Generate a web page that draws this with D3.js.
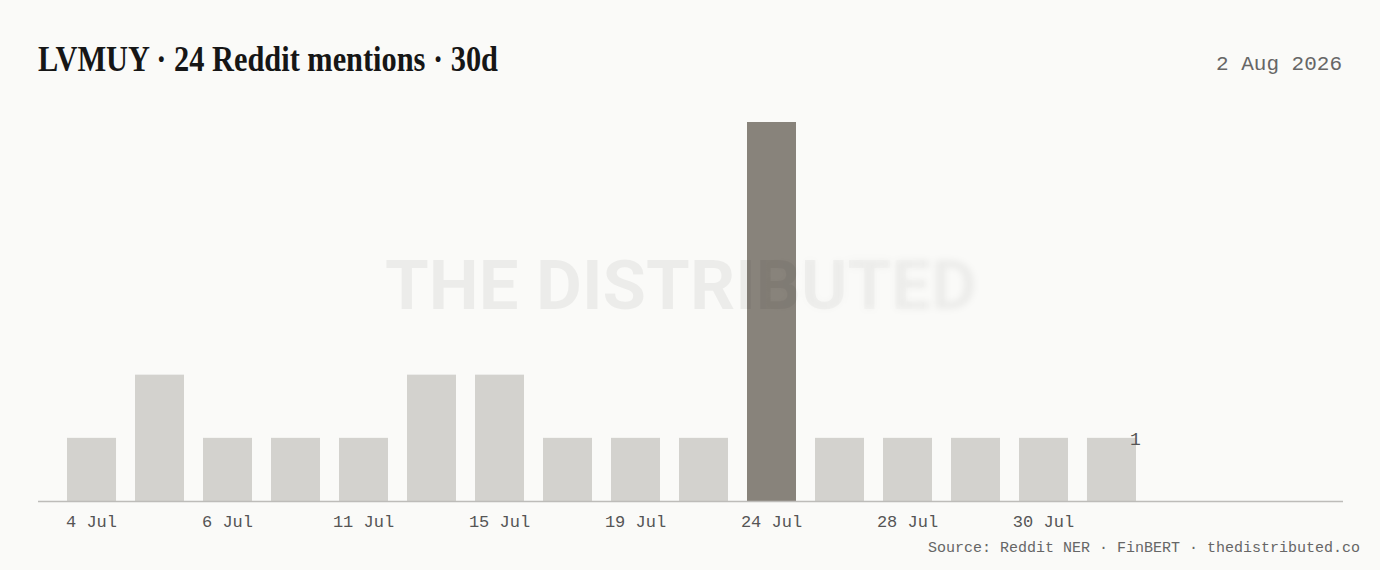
<!DOCTYPE html>
<html><head><meta charset="utf-8">
<script src="https://cdn.jsdelivr.net/npm/d3@7"></script>
<style>
html,body{margin:0;padding:0;background:#fafaf8;}
svg{display:block;}
</style></head>
<body>
<svg id="chart" width="1380" height="570"></svg>
<script>
const dates = ["4 Jul","5 Jul","6 Jul","8 Jul","11 Jul","13 Jul","15 Jul","17 Jul","19 Jul","22 Jul","24 Jul","26 Jul","28 Jul","29 Jul","30 Jul","31 Jul"];
const mentions = [1,2,1,1,1,2,2,1,1,1,6,1,1,1,1,1];
const tickLabels = ["4 Jul","6 Jul","11 Jul","15 Jul","19 Jul","24 Jul","28 Jul","30 Jul"];
const title = "LVMUY · 24 Reddit mentions · 30d";
const dateLabel = "2 Aug 2026";
const sourceLabel = "Source: Reddit NER · FinBERT · thedistributed.co";
const watermark = "THE DISTRIBUTED";

const svg = d3.select("#chart");
const W = 1380, H = 570;
svg.append("rect").attr("width",W).attr("height",H).attr("fill","#fafaf8");

const left = 38, right = 1343, base = 501;
const step = 68;
const x = d3.scaleBand().domain(dates)
  .range([57.5, 57.5 + step*dates.length])
  .paddingInner(19/68).paddingOuter(0.14);
const y = d3.scaleLinear().domain([0,6]).range([base,122]);

// title
svg.append("text").attr("x",38).attr("y",71)
  .attr("font-family","'Liberation Serif','DejaVu Serif',serif")
  .attr("font-weight","bold").attr("font-size",36)
  .attr("fill","#161616")
  .attr("textLength",460).attr("lengthAdjust","spacingAndGlyphs")
  .text(title);
svg.append("text").attr("x",1342).attr("y",70).attr("text-anchor","end")
  .attr("font-family","'Liberation Mono','DejaVu Sans Mono',monospace")
  .attr("font-size",21).attr("fill","#666")
  .text(dateLabel);

// bars
const maxV = d3.max(mentions);
svg.append("g").selectAll("rect").data(dates).join("rect")
  .attr("x",d=>x(d)).attr("width",x.bandwidth())
  .attr("y",(d,i)=>y(mentions[i])).attr("height",(d,i)=>base-y(mentions[i]))
  .attr("fill",(d,i)=>mentions[i]===maxV?"#88837b":"#d3d2ce");

// watermark
const defs = svg.append("defs");
defs.append("filter").attr("id","blur").attr("x","-10%").attr("y","-30%").attr("width","120%").attr("height","160%")
  .append("feGaussianBlur").attr("stdDeviation",3);
const g1 = defs.append("linearGradient").attr("id","fadeA").attr("gradientUnits","userSpaceOnUse")
  .attr("x1",760).attr("x2",930).attr("y1",0).attr("y2",0);
g1.append("stop").attr("offset",0).attr("stop-color","#fff").attr("stop-opacity",1);
g1.append("stop").attr("offset",1).attr("stop-color","#fff").attr("stop-opacity",0);
const g2 = defs.append("linearGradient").attr("id","fadeB").attr("gradientUnits","userSpaceOnUse")
  .attr("x1",760).attr("x2",930).attr("y1",0).attr("y2",0);
g2.append("stop").attr("offset",0).attr("stop-color","#fff").attr("stop-opacity",0);
g2.append("stop").attr("offset",1).attr("stop-color","#fff").attr("stop-opacity",1);
defs.append("mask").attr("id","mA").attr("maskUnits","userSpaceOnUse").attr("x",0).attr("y",0).attr("width",W).attr("height",H)
  .append("rect").attr("width",W).attr("height",H).attr("fill","url(#fadeA)");
defs.append("mask").attr("id","mB").attr("maskUnits","userSpaceOnUse").attr("x",0).attr("y",0).attr("width",W).attr("height",H)
  .append("rect").attr("width",W).attr("height",H).attr("fill","url(#fadeB)");
function wm(sel){
  return sel.attr("x",385).attr("y",309)
   .attr("font-family","Roboto,'Liberation Sans',sans-serif").attr("font-weight","bold")
   .attr("font-size",68).attr("fill","#000").attr("fill-opacity",0.055)
   .attr("textLength",592).attr("lengthAdjust","spacingAndGlyphs")
   .text(watermark);
}
wm(svg.append("g").attr("mask","url(#mA)").append("text"));
wm(svg.append("g").attr("mask","url(#mB)").append("g").attr("filter","url(#blur)").append("text"));

// axis line
svg.append("line").attr("x1",left).attr("x2",right).attr("y1",base+0.5).attr("y2",base+0.5)
  .attr("stroke","#bdbcb9").attr("stroke-width",1.6);

// x labels
const axis = d3.axisBottom(x).tickValues(tickLabels).tickSize(0).tickPadding(0);
const ax = svg.append("g").attr("transform",`translate(0,${base})`).call(axis);
ax.select(".domain").remove();
ax.selectAll("text").attr("y",26).attr("dy",null)
  .attr("font-family","'Liberation Mono','DejaVu Sans Mono',monospace")
  .attr("font-size",17).attr("fill","#555");

// value label on last bar
const last = dates[dates.length-1];
svg.append("text").attr("x",x(last)+x.bandwidth()-6).attr("y",y(mentions[mentions.length-1])+7)
  .attr("font-family","'Liberation Mono','DejaVu Sans Mono',monospace")
  .attr("font-size",18).attr("fill","#555").text(mentions[mentions.length-1]);

// source
svg.append("text").attr("x",1360).attr("y",552).attr("text-anchor","end")
  .attr("font-family","'Liberation Mono','DejaVu Sans Mono',monospace")
  .attr("font-size",15).attr("fill","#666").text(sourceLabel);
</script>
</body></html>
